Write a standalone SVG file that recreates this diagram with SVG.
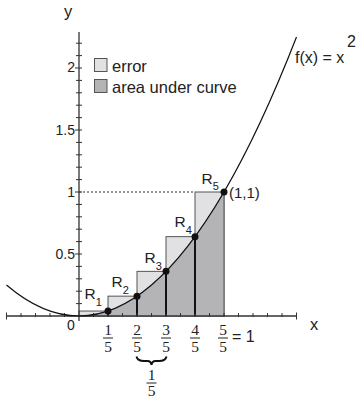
<svg xmlns="http://www.w3.org/2000/svg" width="359" height="400" viewBox="0 0 359 400">
<style>
.sans{font-family:"Liberation Sans",Arial,sans-serif;fill:#222}
.serif{font-family:"Liberation Serif","Times New Roman",serif;fill:#222}
.ax{stroke:#333;stroke-width:1.3;fill:none}
.tk{stroke:#333;stroke-width:1;fill:none}
.light{fill:#e1e1e3;stroke:#555;stroke-width:1}
.dark{fill:#b4b4b6;stroke:none}
.bar{stroke:#222;stroke-width:1}
.vl{stroke:#111;stroke-width:2}
</style>
<rect width="359" height="400" fill="#fff"/>
<g id="rects">
<rect class="light" x="79" y="311.04" width="29" height="4.96"/>
<rect class="light" x="108" y="296.16" width="29" height="19.84"/>
<rect class="light" x="137" y="271.36" width="29" height="44.64"/>
<rect class="light" x="166" y="236.64" width="29" height="79.36"/>
<rect class="light" x="195" y="192" width="29" height="124"/>
<path class="dark" d="M79,316 Q151.5,316 224,192 L224,316 Z"/>
<path d="M224,192 V316" stroke="#555" stroke-width="1"/>
<path class="vl" d="M108,316 V311 M137,316 V296.2 M166,316 V271.4 M195,316 V236.6"/>
</g>
<g id="axes">
<path class="ax" d="M6.5,316 H297 M79,32 V321"/>
<path class="tk" d="M76,303.6h6M76,291.2h6M76,278.8h6M76,266.4h6M75,254h7M76,241.6h6M76,229.2h6M76,216.8h6M76,204.4h6M75,192h7M76,179.6h6M76,167.2h6M76,154.8h6M76,142.4h6M75,130h7M76,117.6h6M76,105.2h6M76,92.8h6M76,80.4h6M75,68h7M76,55.6h6M76,43.2h6"/>
<path class="tk" d="M6.5,312.5V319.5M21,313V317M35.5,313V317M50,313V317M64.5,313V317M93.5,313V317M108,313V317M122.5,313V317M137,313V317M151.5,313V317M166,313V317M180.5,313V317M195,313V317M209.5,313V317M224,313V317M238.5,313V317M253,313V317M267.5,313V317M282,313V317M296.5,312.5V319.5"/>
<path d="M79,192 H195" stroke="#333" stroke-width="1" stroke-dasharray="2,2"/>
<text class="sans" x="68" y="17" font-size="16.5" text-anchor="middle">y</text>
<text class="sans" x="314" y="330" font-size="16.5" text-anchor="middle">x</text>
<text class="sans" x="75" y="72" font-size="14" text-anchor="end">2</text>
<text class="sans" x="75" y="134.5" font-size="14" text-anchor="end">1.5</text>
<text class="sans" x="75" y="196.5" font-size="14" text-anchor="end">1</text>
<text class="sans" x="75" y="258.5" font-size="14" text-anchor="end">0.5</text>
<text class="sans" x="71" y="330" font-size="14" text-anchor="middle">0</text>
</g>
<g id="curve">
<path d="M6.5,285 Q151.5,409 296.5,37" fill="none" stroke="#111" stroke-width="1.2"/>
<text class="sans" x="295" y="63" font-size="16">f(x) = x</text>
<text class="sans" x="347" y="47" font-size="16">2</text>
</g>
<g id="points" fill="#111">
<circle cx="108" cy="311.04" r="3.5"/>
<circle cx="137" cy="296.16" r="3.5"/>
<circle cx="166" cy="271.36" r="3.5"/>
<circle cx="195" cy="236.64" r="3.5"/>
<circle cx="224" cy="192" r="3.5"/>
<text class="sans" x="229" y="198" font-size="15">(1,1)</text>
</g>
<g id="rlabels" class="sans" font-size="15.5">
<text x="84.5" y="299">R<tspan font-size="11" dy="7">1</tspan></text>
<text x="111.5" y="287">R<tspan font-size="11" dy="7">2</tspan></text>
<text x="144.5" y="263">R<tspan font-size="11" dy="7">3</tspan></text>
<text x="174.5" y="227">R<tspan font-size="11" dy="7">4</tspan></text>
<text x="201.5" y="184">R<tspan font-size="11" dy="6">5</tspan></text>
</g>
<g id="legend">
<rect class="light" x="94.5" y="58.5" width="12.5" height="13"/>
<rect x="94.5" y="79.5" width="12.5" height="13" fill="#b4b4b6" stroke="#555" stroke-width="1"/>
<text class="sans" x="112" y="72" font-size="16.5">error</text>
<text class="sans" x="112" y="93" font-size="16.5">area under curve</text>
</g>
<g id="fractions" class="serif" font-size="15.5" text-anchor="middle">
<text x="108" y="335">1</text><path class="bar" d="M103,338H113"/><text x="108" y="352">5</text>
<text x="137" y="335">2</text><path class="bar" d="M132,338H142"/><text x="137" y="352">5</text>
<text x="166" y="335">3</text><path class="bar" d="M161,338H171"/><text x="166" y="352">5</text>
<text x="195" y="335">4</text><path class="bar" d="M190,338H200"/><text x="195" y="352">5</text>
<text x="223" y="335">5</text><path class="bar" d="M218,338H228"/><text x="223" y="352">5</text>
<text class="sans" x="232" y="342" font-size="16" text-anchor="start">= 1</text>
<path d="M136.5,356.5 Q137.5,361 144,361 L147.5,361 Q151,361 151.5,365 Q152,361 155.5,361 L159,361 Q165.5,361 166.5,356.5" fill="none" stroke="#111" stroke-width="2"/>
<text x="151.5" y="380">1</text><path class="bar" d="M146.5,383H156.5"/><text x="151.5" y="396">5</text>
</g>
</svg>
